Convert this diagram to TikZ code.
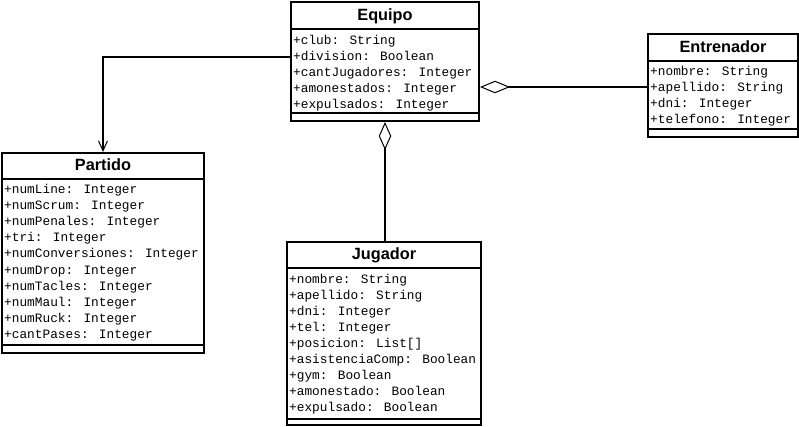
\documentclass[tikz,border=0pt]{standalone}
\usepackage{fontspec}
\usetikzlibrary{arrows.meta}
\newfontfamily\ttlfont{Liberation Sans}
\newfontfamily\attrfont{Liberation Mono}
\begin{document}
\begin{tikzpicture}[x=1pt,y=-1pt,
  classbox/.style={draw, line width=2pt, inner sep=0pt, anchor=north west},
  sepline/.style={line width=2pt},
  ttl/.style={font=\ttlfont\bfseries\fontsize{16.3}{18}\selectfont, inner sep=0pt, anchor=base},
  attr/.style={font=\attrfont\fontsize{12.8}{16}\selectfont, inner sep=0pt, anchor=base west},
  conn/.style={line width=2pt},
  aggr/.style={conn, {Diamond[open,length=#1,width=12.5pt,line width=1pt]}-},
  assoc/.style={conn, -{Straight Barb[length=10pt,width=9pt,line width=1pt]}}]
\useasboundingbox (0,0) rectangle (799,427);

% Equipo
\node[classbox, minimum width=188pt, minimum height=119pt] (equipo) at (290,1) {};
\draw[sepline] ([yshift=-28pt]equipo.north west) -- ([yshift=-28pt]equipo.north east);
\draw[sepline] ([yshift=-112pt]equipo.north west) -- ([yshift=-112pt]equipo.north east);
\node[ttl] (equipo-t) at ([yshift=-19.5pt]equipo.north) {Equipo};
\foreach \t [count=\i] in {+club: String,+division: Boolean,+cantJugadores: Integer,+amonestados: Integer,+expulsados: Integer}
  \node[attr] (equipo-\i) at ([xshift=3pt,yshift={-43.5pt-16pt*(\i-1)}]equipo.north west) {\t};

% Entrenador
\node[classbox, minimum width=150pt, minimum height=103pt] (entrenador) at (647,33) {};
\draw[sepline] ([yshift=-28pt]entrenador.north west) -- ([yshift=-28pt]entrenador.north east);
\draw[sepline] ([yshift=-96pt]entrenador.north west) -- ([yshift=-96pt]entrenador.north east);
\node[ttl] (entrenador-t) at ([yshift=-19.5pt]entrenador.north) {Entrenador};
\foreach \t [count=\i] in {+nombre: String,+apellido: String,+dni: Integer,+telefono: Integer}
  \node[attr] (entrenador-\i) at ([xshift=3pt,yshift={-43pt-16pt*(\i-1)}]entrenador.north west) {\t};

% Partido
\node[classbox, minimum width=202pt, minimum height=199.5pt] (partido) at (1,152) {};
\draw[sepline] ([yshift=-27pt]partido.north west) -- ([yshift=-27pt]partido.north east);
\draw[sepline] ([yshift=-193pt]partido.north west) -- ([yshift=-193pt]partido.north east);
\node[ttl] (partido-t) at ([yshift=-19pt]partido.north) {Partido};
\foreach \t [count=\i] in {+numLine: Integer,+numScrum: Integer,+numPenales: Integer,+tri: Integer,+numConversiones: Integer,+numDrop: Integer,+numTacles: Integer,+numMaul: Integer,+numRuck: Integer,+cantPases: Integer}
  \node[attr] (partido-\i) at ([xshift=3pt,yshift={-42pt-16pt*(\i-1)}]partido.north west) {\t};

% Jugador
\node[classbox, minimum width=194pt, minimum height=183pt] (jugador) at (286,241) {};
\draw[sepline] ([yshift=-27pt]jugador.north west) -- ([yshift=-27pt]jugador.north east);
\draw[sepline] ([yshift=-177.5pt]jugador.north west) -- ([yshift=-177.5pt]jugador.north east);
\node[ttl] (jugador-t) at ([yshift=-19pt]jugador.north) {Jugador};
\foreach \t [count=\i] in {+nombre: String,+apellido: String,+dni: Integer,+tel: Integer,+posicion: List[],+asistenciaComp: Boolean,+gym: Boolean,+amonestado: Boolean,+expulsado: Boolean}
  \node[attr] (jugador-\i) at ([xshift=3pt,yshift={-42.5pt-16pt*(\i-1)}]jugador.north west) {\t};

% Connectors
\draw[assoc] ([yshift=4.5pt]equipo.west) -| (partido.north);
\draw[aggr=30pt] (equipo.east |- entrenador.west) ++(0,1.5) -- ([yshift=-1.5pt]entrenador.west);
\draw[aggr=28pt] (equipo.south) -- (equipo.south |- jugador.north);
\end{tikzpicture}
\end{document}
